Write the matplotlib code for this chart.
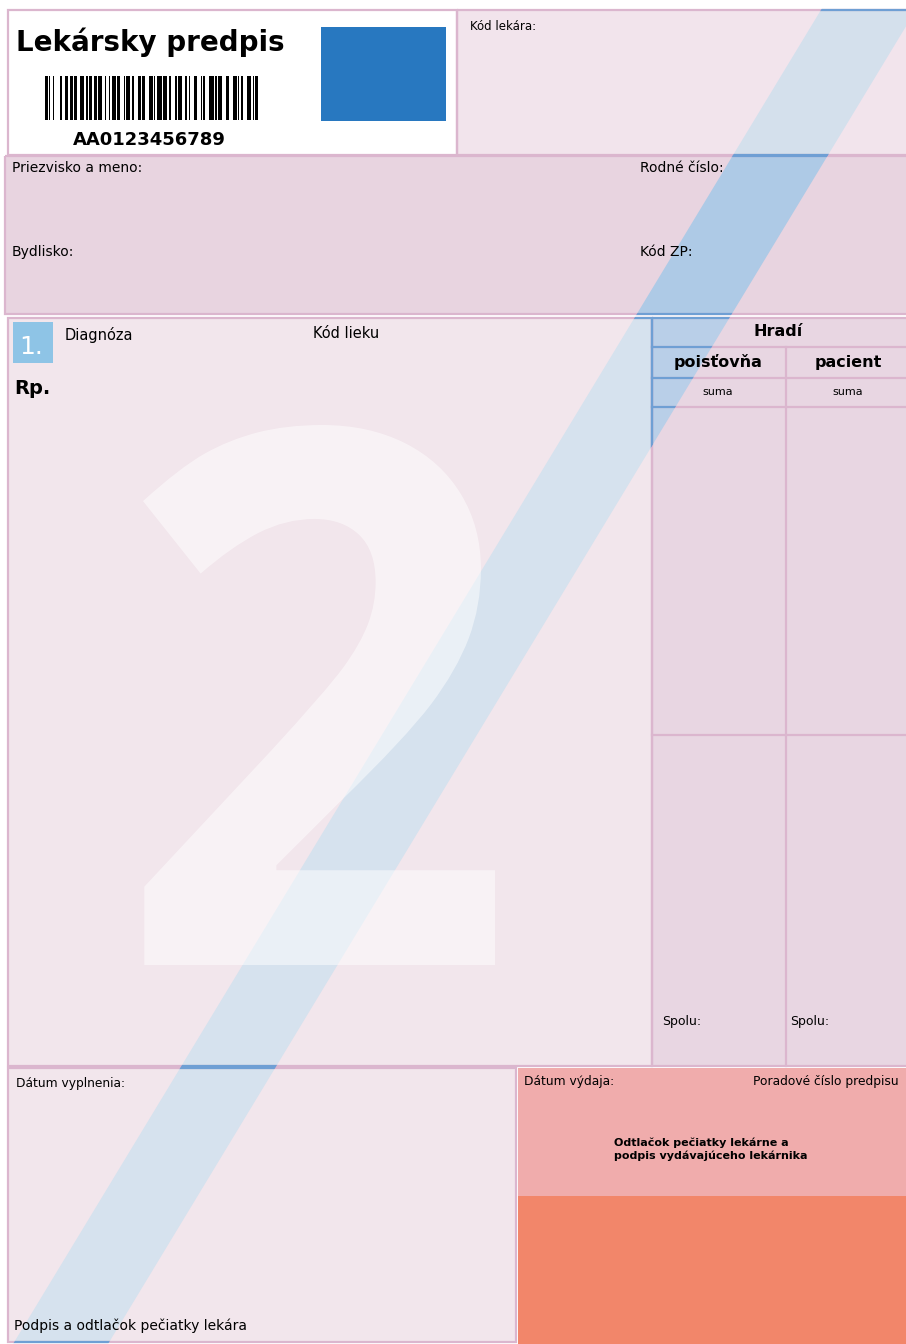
import matplotlib
matplotlib.use("Agg")
import matplotlib.pyplot as plt
from matplotlib.patches import Rectangle, Polygon, PathPatch
from matplotlib.textpath import TextPath
from matplotlib.font_manager import FontProperties
from matplotlib.transforms import Affine2D

W, H = 906, 1344

# form texts
TITLE = "Lekársky predpis"
SERIAL = "AA0123456789"
PATIENT_LABELS = ["Priezvisko a meno:", "Rodné číslo:", "Bydlisko:", "Kód ZP:"]
RP_LABELS = ["Diagnóza", "Kód lieku", "Rp."]
TABLE_HEAD = "Hradí"
TABLE_COLS = ["poisťovňa", "pacient"]
TABLE_SUB = ["suma", "suma"]
TABLE_TOTAL = ["Spolu:", "Spolu:"]
BOTTOM_LABELS = ["Dátum vyplnenia:", "Podpis a odtlačok pečiatky lekára"]
PHARMACY_LABELS = ["Dátum výdaja:", "Poradové číslo predpisu",
                   "Odtlačok pečiatky lekárne a\npodpis vydávajúceho lekárnika"]
BARCODE = ("1101001000011001100110110011100101100110111001001011101100010111011"
           "0001101100011101011110111011000101110011010001100010100011110101110"
           "00110001110101100011101011")

PINK_LINE = "#dbb6ce"
BLUE_LINE = "#6f9fd4"
NARROW = ["Liberation Sans Narrow", "DejaVu Sans"]

fig = plt.figure(figsize=(9.06, 13.44), dpi=100)
ax = fig.add_axes([0, 0, 1, 1])
ax.set_xlim(0, W)
ax.set_ylim(H, 0)
ax.axis("off")

band = Polygon([(830, -5), (925, -5), (105, H + 5), (10, H + 5)],
               closed=True, transform=ax.transData)


def box(x0, y0, x1, y1, fill, band_color=None, edge=True):
    rect = Rectangle((x0, y0), x1 - x0, y1 - y0, facecolor=fill,
                     edgecolor="none", zorder=1)
    ax.add_patch(rect)
    if band_color:
        b = Polygon(band.get_xy(), closed=True, facecolor=band_color,
                    edgecolor="none", zorder=2)
        ax.add_patch(b)
        b.set_clip_path(rect)
    if edge:
        ax.add_patch(Rectangle((x0, y0), x1 - x0, y1 - y0, fill=False,
                               edgecolor=PINK_LINE, lw=1.6, zorder=5))
        blue = Rectangle((x0, y0), x1 - x0, y1 - y0, fill=False,
                         edgecolor=BLUE_LINE, lw=1.6, zorder=6)
        ax.add_patch(blue)
        blue.set_clip_path(band)
    return rect


def hline(y, x0, x1):
    ax.plot([x0, x1], [y, y], color=PINK_LINE, lw=1.6, zorder=5)
    ln, = ax.plot([x0, x1], [y, y], color=BLUE_LINE, lw=1.6, zorder=6)
    ln.set_clip_path(band)


def vline(x, y0, y1):
    ax.plot([x, x], [y0, y1], color=PINK_LINE, lw=1.6, zorder=5)
    ln, = ax.plot([x, x], [y0, y1], color=BLUE_LINE, lw=1.6, zorder=6)
    ln.set_clip_path(band)


# header
box(8, 10, 457, 155, "white")
box(457, 10, 910, 155, "#f2e4ec", "#d4e0ec")
ax.add_patch(Rectangle((321, 27), 125, 94, facecolor="#2878c0", zorder=3))
ax.text(16, 42, TITLE, fontsize=20, fontweight="bold", va="center", ha="left",
        family="DejaVu Sans", zorder=7)

# barcode bars from the module string
unit = 213 / len(BARCODE)
i = 0
while i < len(BARCODE):
    if BARCODE[i] == "1":
        j = i
        while j < len(BARCODE) and BARCODE[j] == "1":
            j += 1
        ax.add_patch(Rectangle((45 + i * unit, 76), (j - i) * unit, 44,
                               facecolor="black", edgecolor="none", zorder=3))
        i = j
    else:
        i += 1
ax.text(149, 140, SERIAL, fontsize=13, fontweight="bold", ha="center",
        va="center", zorder=7)
ax.text(470, 26, "Kód lekára:", fontsize=8.5, va="center", zorder=7)

# patient
box(5, 156, 910, 314, "#e8d4e0", "#aecae6")
for (x, y), s in zip([(12, 168), (640, 168), (12, 252), (640, 252)], PATIENT_LABELS):
    ax.text(x, y, s, fontsize=10, family=NARROW, va="center", zorder=7)

# Rp section
box(8, 318, 652, 1066, "#f2e6ec", "#d6e2ee")
fp = FontProperties(family=["Open Sans", "DejaVu Sans"], weight="bold")
tp = TextPath((0, 0), "2", size=1, prop=fp)
ext = tp.get_extents()
tr = (Affine2D().translate(-ext.x0, -ext.y0)
      .scale(352 / ext.width, -540 / ext.height).translate(143, 965))
ax.add_patch(PathPatch(tr.transform_path(tp), facecolor="white",
                       edgecolor="none", alpha=0.5, zorder=3))
ax.add_patch(Rectangle((13, 322), 40, 41, facecolor="#8ec4e6", zorder=3))
ax.text(31, 347, "1.", fontsize=18, color="white", family=NARROW,
        ha="center", va="center", zorder=7)
ax.text(65, 335, RP_LABELS[0], fontsize=10.5, family=NARROW, va="center", zorder=7)
ax.text(313, 333, RP_LABELS[1], fontsize=10.5, family=NARROW, va="center", zorder=7)
ax.text(14, 389, RP_LABELS[2], fontsize=14, fontweight="bold", va="center",
        family=NARROW, zorder=7)

# payment table
box(652, 318, 910, 1066, "#e8d6e2", "#b9cfe8")
for y in [347, 378, 407, 735]:
    hline(y, 652, 910)
vline(786, 347, 1066)
ax.text(778, 332, TABLE_HEAD, fontsize=11.5, fontweight="bold",
        ha="center", va="center", zorder=7)
for xc, s in zip([718, 848], TABLE_COLS):
    ax.text(xc, 362, s, fontsize=11.5, fontweight="bold", ha="center",
            va="center", zorder=7)
for xc, s in zip([718, 848], TABLE_SUB):
    ax.text(xc, 392, s, fontsize=8, ha="center", va="center", zorder=7)
for x, s in zip([662, 790], TABLE_TOTAL):
    ax.text(x, 1022, s, fontsize=9, va="center", zorder=7)

# bottom
box(8, 1068, 516, 1342, "#f2e6ec", "#d6e2ee")
ax.text(16, 1083, BOTTOM_LABELS[0], fontsize=8.8, va="center", zorder=7)
ax.text(14, 1326, BOTTOM_LABELS[1], fontsize=10, family=NARROW,
        va="center", zorder=7)
box(518, 1068, 910, 1196, "#f0acac", edge=False)
box(518, 1196, 910, 1346, "#f2866a", edge=False)
ax.text(524, 1081, PHARMACY_LABELS[0], fontsize=8.8, va="center", zorder=7)
ax.text(753, 1081, PHARMACY_LABELS[1], fontsize=8.8, va="center", zorder=7)
ax.text(614, 1149, PHARMACY_LABELS[2], fontsize=8, fontweight="bold",
        va="center", linespacing=1.25, zorder=7)

fig.savefig("out.png", dpi=100)
